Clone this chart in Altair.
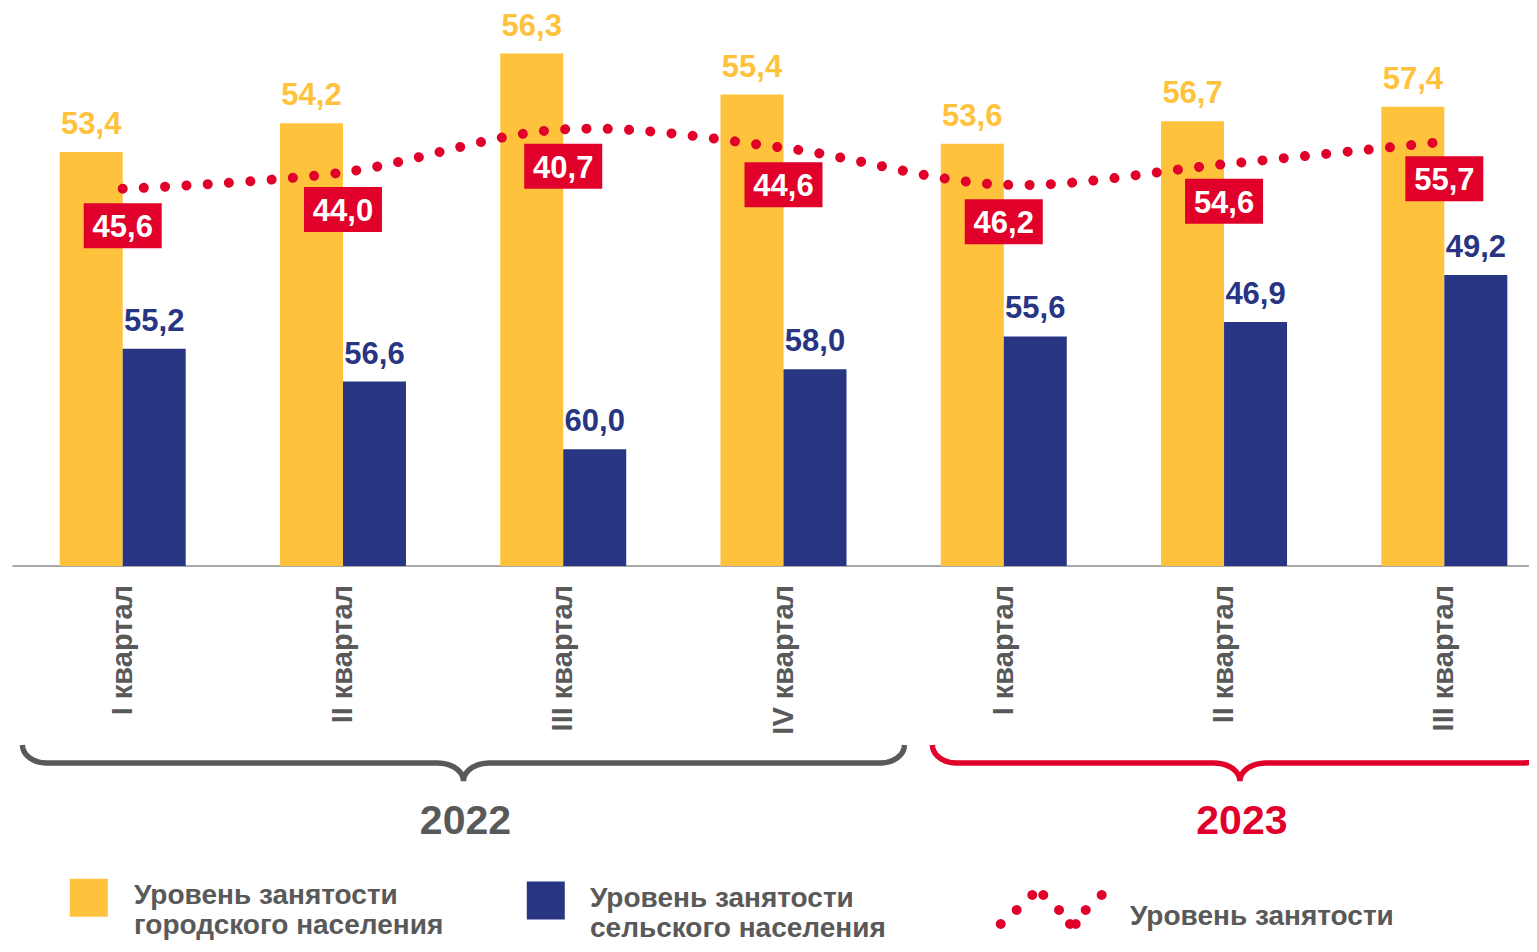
import math
import altair as alt
import pandas as pd

# ---------------- data ----------------
quarters = ["I квартал", "II квартал", "III квартал", "IV квартал",
            "I квартал", "II квартал", "III квартал"]
years = ["2022", "2022", "2022", "2022", "2023", "2023", "2023"]

# heights of the drawn marks (as they appear on the picture)
urban_bar = [55.2, 56.6, 60.0, 58.0, 55.6, 56.7, 57.4]
rural_bar = [45.6, 44.0, 40.7, 44.6, 46.2, 46.9, 49.2]
total_line = [53.4, 54.2, 56.3, 55.4, 53.6, 54.6, 55.7]

# data labels exactly as printed on the picture
urban_lbl = ["53,4", "54,2", "56,3", "55,4", "53,6", "56,7", "57,4"]
rural_lbl = ["55,2", "56,6", "60,0", "58,0", "55,6", "46,9", "49,2"]
total_lbl = ["45,6", "44,0", "40,7", "44,6", "46,2", "54,6", "55,7"]

# year groups (brace spans in quarter-index units)
year_names = ["2022", "2023"]
year_start = [-0.455, 3.676]
year_end = [3.549, 6.468]

legend_urban = "Уровень занятости\nгородского населения"
legend_rural = "Уровень занятости\nсельского населения"
legend_total = "Уровень занятости"

# ---------------- styling ----------------
FONT = "Liberation Sans"
YEL = "#FFC23C"
BLU = "#283583"
RED = "#E1002A"
GRAY = "#595959"
STEP_PX = 220.27
BW = 63 / STEP_PX  # bar width in group units

n = len(quarters)
df = pd.DataFrame({
    "i": list(range(n)),
    "quarter": quarters,
    "urban": urban_bar,
    "rural": rural_bar,
    "total": total_line,
    "urban_lbl": urban_lbl,
    "rural_lbl": rural_lbl,
    "total_lbl": total_lbl,
})
df["u0"] = df["i"] - BW
df["uc"] = df["i"] - BW / 2
df["r1"] = df["i"] + BW
df["rc"] = df["i"] + BW / 2

BASE_VALUE = 35
xs = alt.Scale(domain=[-0.5, 6.5], range=[4.57, 1546.45], nice=False, zero=False)
ys = alt.Scale(domain=[BASE_VALUE, 62.22], range=[558, 0], nice=False, zero=False)

base = alt.Chart(df)

# baseline (category axis line)
axis_line = alt.Chart(pd.DataFrame({"b": [BASE_VALUE]})).mark_rule(
    color="#8C8C8C", strokeWidth=1.6,
).encode(
    y=alt.Y("b:Q", scale=ys, axis=None),
    x=alt.value(4.5), x2=alt.value(1521),
)
# rotated category labels
cat_labels = base.mark_text(
    angle=270, align="right", baseline="middle", font=FONT, fontSize=29,
    fontWeight="bold", color=GRAY,
).encode(
    x=alt.X("i:Q", scale=xs, axis=None),
    y=alt.value(577),
    text="quarter:N",
)

bars_u = base.mark_bar(color=YEL).encode(
    x=alt.X("u0:Q", scale=xs, axis=None), x2="i:Q",
    y=alt.Y("urban:Q", scale=ys, axis=None), y2=alt.datum(BASE_VALUE),
)
bars_r = base.mark_bar(color=BLU).encode(
    x=alt.X("i:Q", scale=xs, axis=None), x2="r1:Q",
    y=alt.Y("rural:Q", scale=ys, axis=None), y2=alt.datum(BASE_VALUE),
)
line = base.mark_line(
    color=RED, strokeWidth=10, strokeCap="round", strokeDash=[0.01, 21.3],
    interpolate="catmull-rom",
).encode(
    x=alt.X("i:Q", scale=xs, axis=None),
    y=alt.Y("total:Q", scale=ys, axis=None),
)
BOX_PATH = "M-1,0.372L1,0.372L1,1.526L-1,1.526Z"
boxes = base.mark_point(
    shape=BOX_PATH, filled=True, color=RED, opacity=1, size=78 * 78, strokeWidth=0,
).encode(
    x=alt.X("i:Q", scale=xs, axis=None),
    y=alt.Y("total:Q", scale=ys, axis=None),
)
txt_style = dict(font=FONT, fontSize=31, fontWeight="bold", baseline="alphabetic", align="center")
box_txt = base.mark_text(color="white", dy=48.5, **txt_style).encode(
    x=alt.X("i:Q", scale=xs, axis=None),
    y=alt.Y("total:Q", scale=ys, axis=None),
    text="total_lbl:N",
)
u_txt = base.mark_text(color=YEL, dy=-18, **txt_style).encode(
    x=alt.X("uc:Q", scale=xs, axis=None),
    y=alt.Y("urban:Q", scale=ys, axis=None),
    text="urban_lbl:N",
)
r_txt = base.mark_text(color=BLU, dy=-18, **txt_style).encode(
    x=alt.X("rc:Q", scale=xs, axis=None),
    y=alt.Y("rural:Q", scale=ys, axis=None),
    text="rural_lbl:N",
)

# ---------------- year braces ----------------
def brace_points(x0, x1, rx_end, rx_mid, ymid=0.5, m=12):
    xc = (x0 + x1) / 2
    half = []
    for k in range(m + 1):
        t = k / m * math.pi / 2
        half.append((x0 + rx_end - rx_end * math.cos(t), ymid * math.sin(t)))
    for k in range(m + 1):
        t = k / m * math.pi / 2
        half.append((xc - rx_mid + rx_mid * math.sin(t), ymid + (1 - ymid) * (1 - math.cos(t))))
    right = [(2 * xc - x, y) for (x, y) in reversed(half)]
    return half + right[1:]

rows = []
for name, s, e in zip(year_names, year_start, year_end):
    for k, (bx, by) in enumerate(brace_points(s, e, 24 / STEP_PX, 26 / STEP_PX)):
        rows.append({"year": name, "k": k, "bx": bx, "by": by})
brace_df = pd.DataFrame(rows)
cs = alt.Scale(domain=year_names, range=[GRAY, RED])

braces = alt.Chart(brace_df).mark_line(
    strokeWidth=5.5, strokeCap="butt", strokeJoin="bevel",
).encode(
    x=alt.X("bx:Q", scale=xs, axis=None),
    y=alt.Y("by:Q", scale=alt.Scale(domain=[0, 1], range=[737, 773]), axis=None),
    color=alt.Color("year:N", scale=cs, legend=None),
    detail="year:N",
    order="k:Q",
)
ydf = pd.DataFrame({"year": year_names,
                    "xc": [(s + e) / 2 for s, e in zip(year_start, year_end)]})
year_txt = alt.Chart(ydf).mark_text(
    font=FONT, fontSize=41, fontWeight="bold", baseline="alphabetic", align="center", dx=2,
).encode(
    x=alt.X("xc:Q", scale=xs, axis=None),
    y=alt.value(826),
    text="year:N",
    color=alt.Color("year:N", scale=cs, legend=None),
)

# ---------------- legend ----------------
one = alt.Chart(pd.DataFrame({"a": [0]}))
leg_txt_style = dict(font=FONT, fontSize=28, fontWeight="bold", color=GRAY,
                     align="left", baseline="alphabetic", lineBreak="\n", lineHeight=30)
leg_sq_u = one.mark_square(size=38 * 38, color=YEL, opacity=1).encode(
    x=alt.value(80.8), y=alt.value(889.8))
leg_tx_u = one.mark_text(**leg_txt_style).encode(
    x=alt.value(126), y=alt.value(896), text=alt.value(legend_urban))
leg_sq_r = one.mark_square(size=38 * 38, color=BLU, opacity=1).encode(
    x=alt.value(537.8), y=alt.value(892.5))
leg_tx_r = one.mark_text(**leg_txt_style).encode(
    x=alt.value(582), y=alt.value(899), text=alt.value(legend_rural))

dot_centers = [(-0.898, 0.259), (-0.613, 0.009), (-0.334, -0.259), (-0.1375, -0.259),
               (0.143, 0.009), (0.339, 0.259), (0.441, 0.259), (0.62, 0.009), (0.905, -0.259)]
r = 5 / 56
parts = []
for cx, cy in dot_centers:
    pts = []
    for k in range(16):
        a = 2 * math.pi * k / 16
        pts.append(f"{cx + r * math.cos(a):.4f},{cy + r * math.sin(a):.4f}")
    parts.append("M" + "L".join(pts) + "Z")
DOTS_PATH = "".join(parts)
leg_dots = one.mark_point(shape=DOTS_PATH, filled=True, color=RED, opacity=1,
                          size=112 * 112, strokeWidth=0).encode(
    x=alt.value(1043), y=alt.value(901.5))
leg_tx_t = one.mark_text(**leg_txt_style).encode(
    x=alt.value(1122), y=alt.value(917), text=alt.value(legend_total))

chart = alt.layer(
    axis_line, bars_u, bars_r, cat_labels, line, boxes, box_txt, u_txt, r_txt,
    braces, year_txt,
    leg_sq_u, leg_tx_u, leg_sq_r, leg_tx_r, leg_dots, leg_tx_t,
).resolve_scale(y="independent").properties(
    width=1521, height=558,
    padding={"left": 0, "top": 0, "right": 0, "bottom": 378},
    autosize=alt.AutoSizeParams(type="none"),
).configure_view(strokeWidth=0)

chart.save("out.html", embed_options={"renderer": "svg", "actions": False})
